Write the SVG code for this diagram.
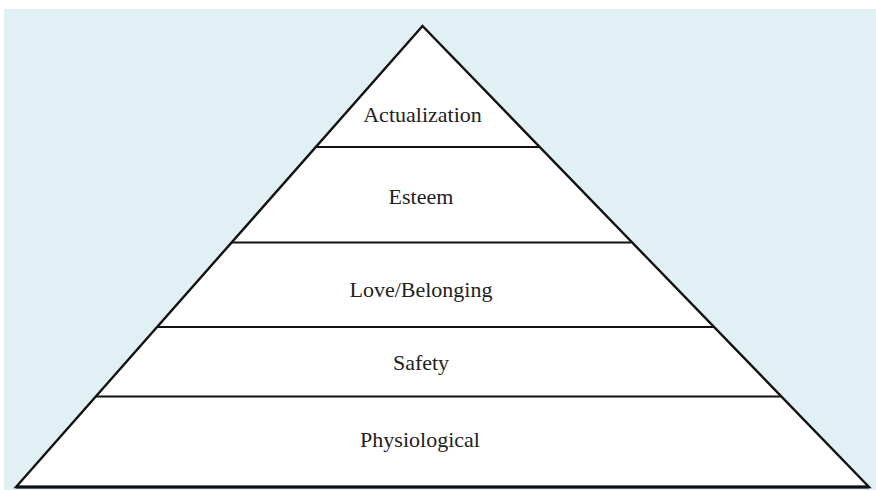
<svg xmlns="http://www.w3.org/2000/svg" width="876" height="490" viewBox="0 0 876 490">
<style>
.lbl{font-family:"Liberation Serif","Times New Roman",serif;font-size:22px;fill:#222;text-anchor:middle}
.edge{stroke:#111;stroke-width:2.2;fill:none;stroke-linecap:butt}
</style>
<rect x="0" y="0" width="876" height="490" fill="#ffffff"/>
<rect x="4" y="9" width="872" height="481" fill="#e1f0f5"/>
<g id="pyramid">
<polygon points="422.5,26 16,487 869,487" fill="#ffffff" stroke="#111" stroke-width="2.4" stroke-linejoin="miter"/>
</g>
<g id="connectors">
<line class="edge" x1="316" y1="147" x2="540" y2="147"/>
<line class="edge" x1="232" y1="242.5" x2="631" y2="242.5"/>
<line class="edge" x1="157" y1="327" x2="714" y2="327"/>
<line class="edge" x1="95.5" y1="396.5" x2="781" y2="396.5"/>
<line x1="16" y1="487" x2="869" y2="487" stroke="#111" stroke-width="3"/>
</g>
<g id="actualization"><text class="lbl" x="422.5" y="121.5">Actualization</text></g>
<g id="esteem"><text class="lbl" x="421" y="204">Esteem</text></g>
<g id="love"><text class="lbl" x="421" y="297">Love/Belonging</text></g>
<g id="safety"><text class="lbl" x="421" y="370">Safety</text></g>
<g id="physiological"><text class="lbl" x="420" y="446.7">Physiological</text></g>
</svg>
